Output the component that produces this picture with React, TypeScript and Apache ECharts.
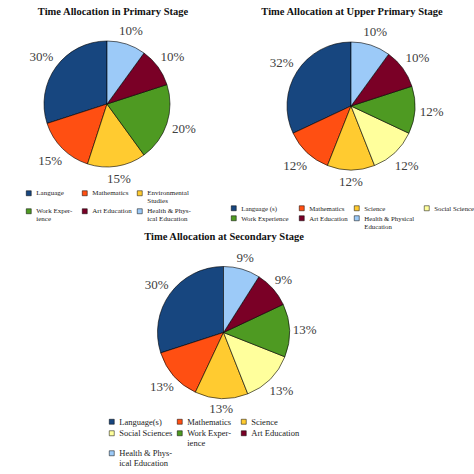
import { useEffect, useRef } from "react";
import * as echarts from "echarts";

// ---------- data ----------
const primaryCategories = [
  "Language",
  "Mathematics",
  "Environmental Studies",
  "Work Experience",
  "Art Education",
  "Health & Physical Education",
];
const primaryValues = [30, 15, 15, 20, 10, 10];
const primaryLegendLabels = [
  "Language",
  "Mathematics",
  "Environmental\nStudies",
  "Work Exper-\nience",
  "Art Education",
  "Health & Phys-\nical Education",
];

const upperCategories = [
  "Language (s)",
  "Mathematics",
  "Science",
  "Social Science",
  "Work Experience",
  "Art Education",
  "Health & Physical Education",
];
const upperValues = [32, 12, 12, 12, 12, 10, 10];
const upperLegendLabels = [
  "Language (s)",
  "Mathematics",
  "Science",
  "Social Science",
  "Work Experience",
  "Art Education",
  "Health & Physical\nEducation",
];

const secondaryCategories = [
  "Language(s)",
  "Mathematics",
  "Science",
  "Social Sciences",
  "Work Experience",
  "Art Education",
  "Health & Physical Education",
];
const secondaryValues = [30, 13, 13, 13, 13, 9, 9];
const secondaryLegendLabels = [
  "Language(s)",
  "Mathematics",
  "Science",
  "Social Sciences",
  "Work Exper-\nience",
  "Art Education",
  "Health & Phys-\nical Education",
];

const primaryColors = ["#17467f", "#ff4f12", "#ffcb30", "#4e9a22", "#7a0026", "#9ccaf8"];
const upperColors = ["#17467f", "#ff4f12", "#ffcb30", "#ffff9c", "#4e9a22", "#7a0026", "#9ccaf8"];
const secondaryColors = ["#17467f", "#ff4f12", "#ffcb30", "#ffff9c", "#4e9a22", "#7a0026", "#9ccaf8"];

const titles = [
  "Time Allocation in Primary Stage",
  "Time Allocation at Upper Primary Stage",
  "Time Allocation at Secondary Stage",
];

// ---------- layout ----------
const SERIF = "Liberation Serif";

type Stage = {
  categories: string[];
  values: number[];
  colors: string[];
  legendLabels: string[];
  center: [number, number];
  radius: number;
  gap: number;
  title: { x: number; y: number };
  legend: { font: number; lh: number; pos: [number, number][] };
};

const stages: Stage[] = [
  {
    categories: primaryCategories,
    values: primaryValues,
    colors: primaryColors,
    legendLabels: primaryLegendLabels,
    center: [107, 104],
    radius: 63,
    gap: 4.5,
    title: { x: 113, y: 11 },
    legend: {
      font: 7,
      lh: 8,
      pos: [
        [26, 193],
        [82, 193],
        [137, 193],
        [26, 211],
        [82, 211],
        [137, 211],
      ],
    },
  },
  {
    categories: upperCategories,
    values: upperValues,
    colors: upperColors,
    legendLabels: upperLegendLabels,
    center: [351, 106],
    radius: 64,
    gap: 4.5,
    title: { x: 352, y: 11.5 },
    legend: {
      font: 6.8,
      lh: 8.5,
      pos: [
        [231, 208],
        [299, 208],
        [354, 208],
        [424, 208],
        [231, 218],
        [299, 218],
        [354, 218],
      ],
    },
  },
  {
    categories: secondaryCategories,
    values: secondaryValues,
    colors: secondaryColors,
    legendLabels: secondaryLegendLabels,
    center: [223.5, 332.5],
    radius: 66,
    gap: 3,
    title: { x: 224, y: 236.5 },
    legend: {
      font: 8.5,
      lh: 9.5,
      pos: [
        [109, 421.5],
        [177, 421.5],
        [241, 421.5],
        [109, 433],
        [177, 433],
        [241, 433],
        [109, 453],
      ],
    },
  },
];

function makeLabelLayout(values: number[], cx: number, cy: number, r: number, gap: number) {
  const total = values.reduce((a, b) => a + b, 0);
  return (params: any) => {
    const i = params.dataIndex;
    let before = 0;
    for (let k = 0; k < i; k++) before += values[k];
    const ang = ((90 + (360 * (before + values[i] / 2)) / total) * Math.PI) / 180;
    const dx = Math.cos(ang);
    const dy = -Math.sin(ang);
    const w = params.labelRect.width;
    const h = params.labelRect.height;
    const ext = (Math.abs(dx) * w) / 2 + (Math.abs(dy) * h) / 2;
    const d = r + gap + ext;
    return { x: cx + dx * d, y: cy + dy * d, align: "center", verticalAlign: "middle" };
  };
}

function legendItem(name: string, label: string, x: number, y: number, font: number, lh: number) {
  const lines = label.split("\n").length;
  const s = 5;
  const H = lh * lines;
  const sq = (lh - s) / 2;
  return {
    data: [name],
    left: x,
    top: y - lh / 2,
    padding: 0,
    orient: "horizontal",
    selectedMode: false,
    itemWidth: s,
    itemHeight: H,
    icon: `path://M0,${sq}L${s},${sq}L${s},${sq + s}L0,${sq + s}Z M0,0L0.01,0 M0,${H}L0.01,${H}`,
    itemStyle: { borderColor: "#000", borderWidth: 0.5 },
    formatter: () => label,
    textStyle: { fontFamily: SERIF, fontSize: font, lineHeight: lh, color: "#222" },
  };
}

export default function App() {
  const ref = useRef<HTMLDivElement>(null);

  useEffect(() => {
    document.body.style.margin = "0";
    if (!ref.current) return;
    const chart = echarts.init(ref.current, null, { renderer: "svg" });

    const series = stages.map((st) => ({
      type: "pie",
      center: st.center,
      radius: st.radius,
      clockwise: false,
      startAngle: 90,
      avoidLabelOverlap: false,
      label: {
        show: true,
        position: "outside",
        formatter: "{c}%",
        fontFamily: SERIF,
        fontSize: 13,
        lineHeight: 12,
        color: "#404040",
      },
      labelLine: { show: false },
      labelLayout: makeLabelLayout(st.values, st.center[0], st.center[1], st.radius, st.gap),
      itemStyle: { borderColor: "#000", borderWidth: 0.6 },
      emphasis: { disabled: true },
      data: st.categories.map((n, i) => ({
        name: n,
        value: st.values[i],
        itemStyle: { color: st.colors[i] },
      })),
    }));

    const legends: any[] = [];
    stages.forEach((st) => {
      st.categories.forEach((n, i) => {
        const [x, y] = st.legend.pos[i];
        legends.push(legendItem(n, st.legendLabels[i], x, y, st.legend.font, st.legend.lh));
      });
    });

    const graphic = stages.map((st, i) => ({
      type: "text",
      x: st.title.x,
      y: st.title.y,
      style: {
        text: titles[i],
        font: `bold 10.5px ${SERIF}`,
        fill: "#111",
        align: "center",
        verticalAlign: "middle",
      },
    }));

    chart.setOption({
      animation: false,
      backgroundColor: "#fff",
      tooltip: { show: false },
      legend: legends,
      graphic,
      series,
    } as any);

    return () => chart.dispose();
  }, []);

  return <div ref={ref} style={{ width: 474, height: 474 }} />;
}
